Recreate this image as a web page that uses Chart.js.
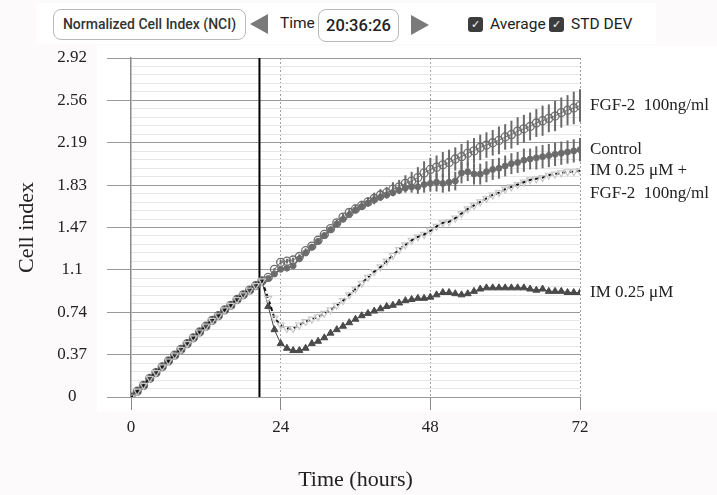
<!DOCTYPE html>
<html>
<head>
<meta charset="utf-8">
<script src="https://cdn.jsdelivr.net/npm/chart.js@4.4.1/dist/chart.umd.min.js"></script>
<style>
  body { margin: 0; background: #fcfafb; }
  #wrap { position: relative; width: 717px; height: 495px; }
  #wrap canvas { position: absolute; left: 0; top: 0; }
  .bar { position: absolute; left: 36px; top: 3px; width: 620px; height: 41px; background: #fff;
         font-family: Roboto, "Liberation Sans", Arial, sans-serif; color: #222; }
  .box { position: absolute; border: 1px solid #b9b9b9; border-radius: 8px; background: #fff;
         box-sizing: border-box; text-align: center; }
  .tri-l, .tri-r { position: absolute; width: 0; height: 0; border-top: 10px solid transparent; border-bottom: 10px solid transparent; }
  .tri-l { border-right: 18px solid #7a7a7a; }
  .tri-r { border-left: 18px solid #7a7a7a; }
  .chk { position: absolute; width: 15px; height: 15px; border-radius: 3px; background: #3d3d3d; color: #fff;
         font-size: 11px; line-height: 15px; text-align: center; }
  .lbl { position: absolute; font-size: 15.5px; }
</style>
</head>
<body>
<div id="wrap">
  <canvas id="chart" width="717" height="495"></canvas>
  <div class="bar">
    <div class="box" style="left:17px;top:6px;width:193px;height:31px;font-size:14px;font-weight:500;color:#333;line-height:29px;">Normalized Cell Index (NCI)</div>
    <div class="tri-l" style="left:214px;top:11px;"></div>
    <div class="lbl" style="left:244px;top:11px;">Time</div>
    <div class="box" style="left:282px;top:6px;width:81px;height:33px;font-size:16.5px;font-weight:500;color:#222;line-height:31px;">20:36:26</div>
    <div class="tri-r" style="left:375px;top:12px;"></div>
    <div class="chk" style="left:432px;top:14px;">&#10003;</div>
    <div class="lbl" style="left:454px;top:12px;">Average</div>
    <div class="chk" style="left:513px;top:14px;">&#10003;</div>
    <div class="lbl" style="left:535px;top:12px;">STD DEV</div>
  </div>
</div>
<script>
// time points (hours)
const hours = Array.from({ length: 73 }, (_, i) => i);
const treatmentHour = 20.6;

// all wells before treatment (0-20 h)
const earlyPhase = [0, 0.05, 0.10, 0.16, 0.21, 0.26, 0.31, 0.36, 0.41, 0.46, 0.51,
    0.56, 0.61, 0.66, 0.70, 0.75, 0.79, 0.84, 0.88, 0.92, 0.96];

// 21-72 h
const fgf2After = [1.00, 1.03, 1.10, 1.16, 1.17, 1.18, 1.21, 1.26, 1.30, 1.35,
    1.40, 1.45, 1.50, 1.55, 1.59, 1.62, 1.65, 1.68, 1.71, 1.74,
    1.76, 1.79, 1.81, 1.84, 1.86, 1.89, 1.93, 1.96, 1.98, 2.00,
    2.02, 2.05, 2.07, 2.10, 2.12, 2.15, 2.17, 2.19, 2.21, 2.24,
    2.26, 2.29, 2.31, 2.33, 2.36, 2.38, 2.40, 2.42, 2.45, 2.47, 2.49, 2.51];
const controlAfter = [1.00, 1.02, 1.06, 1.10, 1.11, 1.13, 1.19, 1.24, 1.29, 1.34,
    1.39, 1.44, 1.49, 1.53, 1.57, 1.61, 1.64, 1.67, 1.70, 1.72,
    1.74, 1.76, 1.78, 1.80, 1.81, 1.81, 1.83, 1.84, 1.85, 1.84,
    1.85, 1.86, 1.93, 1.94, 1.92, 1.92, 1.94, 1.96, 1.97, 1.99,
    2.01, 2.02, 2.04, 2.05, 2.06, 2.07, 2.08, 2.09, 2.10, 2.11, 2.12, 2.13];
const imFgf2After = [1.00, 0.85, 0.68, 0.62, 0.59, 0.59, 0.62, 0.65, 0.67, 0.69,
    0.72, 0.75, 0.79, 0.83, 0.88, 0.93, 0.98, 1.03, 1.08, 1.12,
    1.17, 1.22, 1.27, 1.31, 1.35, 1.38, 1.40, 1.43, 1.47, 1.50,
    1.51, 1.54, 1.58, 1.62, 1.65, 1.68, 1.71, 1.74, 1.76, 1.79,
    1.81, 1.83, 1.85, 1.87, 1.88, 1.89, 1.91, 1.92, 1.93, 1.94, 1.94, 1.95];
const imAfter = [1.00, 0.78, 0.58, 0.46, 0.42, 0.40, 0.40, 0.42, 0.46, 0.48,
    0.51, 0.55, 0.58, 0.61, 0.64, 0.67, 0.70, 0.72, 0.74, 0.76,
    0.78, 0.79, 0.81, 0.83, 0.84, 0.85, 0.85, 0.86, 0.88, 0.90,
    0.90, 0.89, 0.88, 0.89, 0.91, 0.93, 0.94, 0.94, 0.94, 0.94,
    0.94, 0.94, 0.94, 0.93, 0.92, 0.93, 0.91, 0.91, 0.91, 0.90, 0.90, 0.90];

// standard deviation, 21-72 h
const fgf2SdAfter = [0, 0, 0.01, 0.02, 0.02, 0.02, 0.02, 0.02, 0.02, 0.02,
    0.02, 0.02, 0.03, 0.03, 0.03, 0.04, 0.04, 0.04, 0.05, 0.05,
    0.05, 0.06, 0.06, 0.07, 0.08, 0.09, 0.10, 0.10, 0.10, 0.11,
    0.11, 0.10, 0.11, 0.11, 0.11, 0.11, 0.11, 0.11, 0.12, 0.11,
    0.12, 0.12, 0.12, 0.12, 0.12, 0.13, 0.12, 0.13, 0.13, 0.13, 0.14, 0.14];
const controlSdAfter = [0, 0, 0.01, 0.01, 0.01, 0.01, 0.01, 0.01, 0.01, 0.01,
    0.01, 0.01, 0.01, 0.01, 0.01, 0.01, 0.01, 0.02, 0.02, 0.02,
    0.02, 0.03, 0.03, 0.04, 0.05, 0.06, 0.07, 0.07, 0.08, 0.08,
    0.08, 0.08, 0.09, 0.08, 0.09, 0.09, 0.09, 0.09, 0.09, 0.09,
    0.09, 0.09, 0.10, 0.09, 0.10, 0.10, 0.10, 0.10, 0.10, 0.10, 0.10, 0.10];

const yTicks = [0, 0.365, 0.73, 1.095, 1.46, 1.825, 2.19, 2.555, 2.92];
const yTickLabels = ['0', '0.37', '0.74', '1.1', '1.47', '1.83', '2.19', '2.56', '2.92'];
const xTicks = [0, 24, 48, 72];

const seriesNames = [
    ['FGF-2  100ng/ml'],
    ['Control'],
    ['IM 0.25 \u03bcM +', 'FGF-2  100ng/ml'],
    ['IM 0.25 \u03bcM'],
];

const zeros = earlyPhase.map(() => 0);
const toPoints = (vals) => vals.map((v, i) => ({ x: hours[i], y: v }));
const fgf2 = earlyPhase.concat(fgf2After);
const control = earlyPhase.concat(controlAfter);
const imFgf2 = earlyPhase.concat(imFgf2After);
const im = earlyPhase.concat(imAfter);
const sds = [zeros.concat(fgf2SdAfter), zeros.concat(controlSdAfter), null, null];

const serif = '"Liberation Serif", "Times New Roman", serif';

const backdrop = {
    id: 'backdrop',
    beforeDraw(chart) {
        const { ctx, chartArea: a } = chart;
        ctx.save();
        ctx.fillStyle = '#fcfafb';
        ctx.fillRect(0, 0, chart.width, chart.height);
        ctx.fillStyle = '#ffffff';
        ctx.fillRect(a.left - 34, 46, chart.width - a.left + 34, a.bottom + 15 - 46);
        ctx.restore();
    }
};

const treatmentLine = {
    id: 'treatmentLine',
    beforeDatasetsDraw(chart) {
        const { ctx, chartArea: a, scales } = chart;
        const x = scales.x.getPixelForValue(treatmentHour);
        ctx.save();
        ctx.strokeStyle = '#000';
        ctx.lineWidth = 2;
        ctx.beginPath();
        ctx.moveTo(x, a.top);
        ctx.lineTo(x, a.bottom);
        ctx.stroke();
        ctx.restore();
    }
};

const errorBars = {
    id: 'errorBars',
    afterDatasetsDraw(chart) {
        const { ctx, scales } = chart;
        ctx.save();
        ctx.strokeStyle = '#6a6a6a';
        ctx.lineWidth = 2;
        chart.data.datasets.forEach((ds, di) => {
            const sd = sds[di];
            if (!sd) return;
            ds.data.forEach((p, i) => {
                if (!sd[i]) return;
                const x = scales.x.getPixelForValue(p.x);
                ctx.beginPath();
                ctx.moveTo(x, scales.y.getPixelForValue(p.y - sd[i]));
                ctx.lineTo(x, scales.y.getPixelForValue(p.y + sd[i]));
                ctx.stroke();
            });
        });
        ctx.restore();
    }
};

const endLabels = {
    id: 'endLabels',
    afterDraw(chart) {
        const { ctx, chartArea: a, scales } = chart;
        ctx.save();
        ctx.font = '17px ' + serif;
        ctx.fillStyle = '#222';
        ctx.textBaseline = 'middle';
        chart.data.datasets.forEach((ds, di) => {
            const last = ds.data[ds.data.length - 1];
            const y = scales.y.getPixelForValue(last.y);
            seriesNames[di].forEach((line, li) => {
                ctx.fillText(line, a.right + 10, y + li * 23);
            });
        });
        ctx.restore();
    }
};

new Chart(document.getElementById('chart'), {
    type: 'line',
    data: {
        datasets: [{
            label: seriesNames[0].join(' '),
            data: toPoints(fgf2),
            borderColor: '#7a7a7a',
            borderWidth: 1,
            pointStyle: 'circle',
            pointRadius: 4,
            pointBorderWidth: 1.3,
            pointBorderColor: '#6e6e6e',
            pointBackgroundColor: 'rgba(255,255,255,0)',
            order: 4,
        }, {
            label: seriesNames[1][0],
            data: toPoints(control),
            borderColor: '#6e6e6e',
            borderWidth: 1.5,
            pointStyle: 'circle',
            pointRadius: 3,
            pointBorderWidth: 1,
            pointBorderColor: '#6e6e6e',
            pointBackgroundColor: '#6e6e6e',
            order: 3,
        }, {
            label: seriesNames[2].join(' '),
            data: toPoints(imFgf2),
            borderColor: '#111',
            borderWidth: 2,
            borderDash: [4, 3],
            pointStyle: 'triangle',
            pointRotation: 180,
            pointRadius: 4,
            pointBorderWidth: 1.2,
            pointBorderColor: '#c8c8c8',
            pointBackgroundColor: 'rgba(255,255,255,0)',
            order: 1,
        }, {
            label: seriesNames[3][0],
            data: toPoints(im),
            borderColor: '#444',
            borderWidth: 1,
            pointStyle: 'triangle',
            pointRadius: 4,
            pointBorderWidth: 1,
            pointBorderColor: '#4a4a4a',
            pointBackgroundColor: '#4a4a4a',
            order: 2,
        }]
    },
    options: {
        responsive: false,
        animation: false,
        devicePixelRatio: 1,
        layout: { padding: { left: 0, right: 137, top: 58, bottom: 0 } },
        plugins: { legend: { display: false }, tooltip: { enabled: false } },
        scales: {
            x: {
                type: 'linear',
                min: 0,
                max: 72,
                afterBuildTicks: (scale) => { scale.ticks = xTicks.map(v => ({ value: v })); },
                afterFit: (scale) => { scale.height = 98; },
                grid: {
                    color: (c) => c.index === 0 ? 'rgba(0,0,0,0)' : '#a0a0a0',
                    tickColor: '#888',
                    tickLength: 13,
                    lineWidth: 1,
                },
                border: { display: false, dash: [2, 2] },
                ticks: { color: '#222', padding: 7, font: { family: serif, size: 17 } },
                title: { display: true, text: 'Time (hours)', color: '#222', padding: { top: 0, bottom: 2 },
                         font: { family: serif, size: 22 } },
            },
            y: {
                type: 'linear',
                min: 0,
                max: 2.92,
                afterBuildTicks: (scale) => {
                    const t = [];
                    for (let i = 0; i < yTicks.length; i++) {
                        t.push({ value: yTicks[i] });
                        if (i < yTicks.length - 1) {
                            const step = (yTicks[i + 1] - yTicks[i]) / 5;
                            for (let k = 1; k < 5; k++) t.push({ value: yTicks[i] + step * k });
                        }
                    }
                    scale.ticks = t;
                },
                afterFit: (scale) => { scale.width = 131; },
                grid: {
                    color: (c) => c.index % 5 === 0 ? '#9a9a9a' : '#e6e6e6',
                    tickColor: (c) => c.index % 5 === 0 ? '#9a9a9a' : 'rgba(0,0,0,0)',
                    tickLength: 24,
                },
                border: { display: true, color: '#8a8a8a', width: 1.5 },
                ticks: {
                    autoSkip: false,
                    color: '#222',
                    padding: 20,
                    crossAlign: 'center',
                    font: { family: serif, size: 17 },
                    callback: (v, i) => i % 5 === 0 ? yTickLabels[i / 5] : '',
                },
                title: { display: true, text: 'Cell index', color: '#222', padding: { top: 14, bottom: 0 },
                         font: { family: serif, size: 22 } },
            }
        }
    },
    plugins: [backdrop, treatmentLine, errorBars, endLabels]
});
</script>
</body>
</html>
